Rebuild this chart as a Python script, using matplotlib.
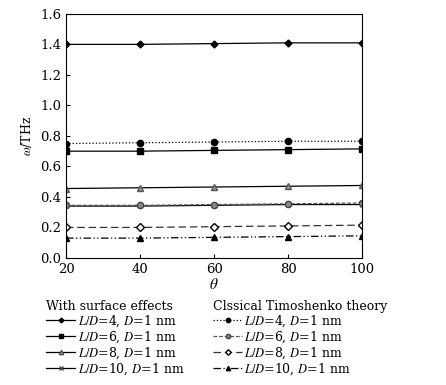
import numpy as np
import matplotlib
matplotlib.use("Agg")
import matplotlib.pyplot as plt

plt.rcParams['font.family'] = ['DejaVu Serif']
plt.rcParams['mathtext.fontset'] = 'stix'

theta = [20, 40, 60, 80, 100]

# with surface effects
surf_4 = [1.400, 1.400, 1.405, 1.410, 1.410]
surf_6 = [0.700, 0.700, 0.705, 0.710, 0.715]
surf_8 = [0.455, 0.460, 0.465, 0.470, 0.475]
surf_10 = [0.340, 0.340, 0.345, 0.350, 0.350]

# classical Timoshenko theory
cls_4 = [0.750, 0.755, 0.760, 0.765, 0.765]
cls_6 = [0.345, 0.345, 0.350, 0.355, 0.360]
cls_8 = [0.200, 0.200, 0.205, 0.210, 0.215]
cls_10 = [0.130, 0.130, 0.135, 0.140, 0.145]

labels = ['$L/D$=4, $D$=1 nm', '$L/D$=6, $D$=1 nm',
          '$L/D$=8, $D$=1 nm', '$L/D$=10, $D$=1 nm']

fig = plt.figure(figsize=(4.46, 3.85), dpi=100)
ax = fig.add_axes([0.148, 0.330, 0.664, 0.634])

lw = 0.9
h1 = []
h1 += ax.plot(theta, surf_4, '-', color='k', lw=lw, marker='D', ms=3.5, mfc='k', mec='k')
h1 += ax.plot(theta, surf_6, '-', color='k', lw=lw, marker='s', ms=4.5, mfc='k', mec='k')
h1 += ax.plot(theta, surf_8, '-', color='k', lw=lw, marker='^', ms=4.5, mfc='#999999', mec='#555555')
h1 += ax.plot(theta, surf_10, '-', color='k', lw=lw, marker='x', ms=3.5, mec='#444444')

h2 = []
h2 += ax.plot(theta, cls_4, ':', color='k', lw=lw, marker='o', ms=4.5, mfc='k', mec='k')
h2 += ax.plot(theta, cls_6, '--', color='#555555', lw=lw, marker='o', ms=4.5, mfc='#888888', mec='#444444', dashes=(3, 1.5))
h2 += ax.plot(theta, cls_8, '--', color='#333333', lw=lw, marker='D', ms=4, mfc='white', mec='k', dashes=(6, 3))
h2 += ax.plot(theta, cls_10, '-', color='k', lw=lw, marker='^', ms=4.5, mfc='k', mec='k', dashes=(6, 2, 1, 2, 1, 2))

ax.set_xlim(20, 100)
ax.set_ylim(0, 1.6)
ax.set_xticks(theta)
ax.set_yticks(np.arange(0, 1.61, 0.2))
ax.set_yticklabels(['%.1f' % v for v in np.arange(0, 1.61, 0.2)])
ax.tick_params(direction='in', labelsize=9.5, length=3, width=0.8)
for s in ax.spines.values():
    s.set_linewidth(0.8)
ax.set_xlabel(r'$\theta$', fontsize=11, labelpad=1)
ax.set_ylabel(r'$\omega$/THz', fontsize=9, labelpad=4)

common = dict(loc='upper left', frameon=False, fontsize=9, title_fontsize=9,
              handlelength=2.3, handletextpad=0.2, labelspacing=0.05,
              borderpad=0, alignment='left', markerscale=0.7)
leg1 = fig.legend(h1, labels, title='With surface effects',
                  bbox_to_anchor=(0.09, 0.238), **common)
leg2 = fig.legend(h2, labels, title='Clssical Timoshenko theory',
                  bbox_to_anchor=(0.464, 0.238), **common)

fig.savefig('out.png', dpi=100)
